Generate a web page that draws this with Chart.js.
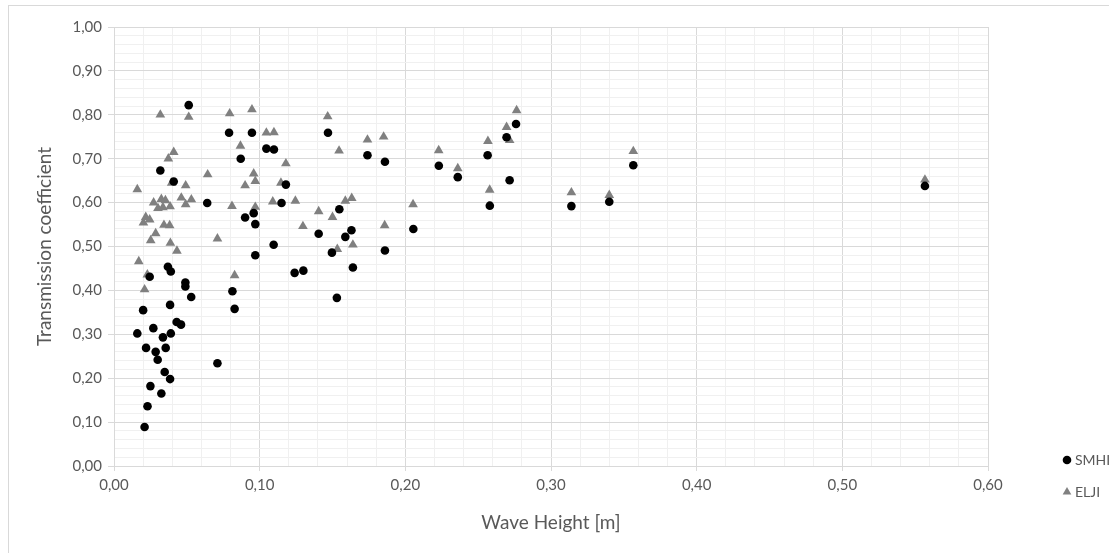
<!DOCTYPE html>
<html lang="en">

<head>
    <meta charset="UTF-8">
    <title>Transmission coefficient</title>
    <script src="https://cdn.jsdelivr.net/npm/chart.js"></script>
    <style>
        body { margin: 0; overflow: hidden; background: #fff; }
        .janela { position: relative; width: 1109px; height: 553px; overflow: hidden; }
        .moldura { position: absolute; left: 8px; top: 5px; width: 1300px; height: 800px; border: 1px solid #d9d9d9; }
        canvas { position: absolute; left: 0; top: 0; }
    </style>
</head>

<body>
    <div class="janela">
        <div class="moldura"></div>
        <canvas id="graficoTransmissao" width="1109" height="553"></canvas>
    </div>

<script>
    // SMHI - wave height [m]
    const smhiX = [0.0513, 0.079, 0.0947, 0.1046, 0.1098, 0.1469, 0.087, 0.0318, 0.041, 0.064,
        0.090, 0.0959, 0.097, 0.097, 0.118, 0.115, 0.1096, 0.174, 0.186, 0.186,
        0.1405, 0.1547, 0.1496, 0.1588, 0.163, 0.164, 0.124, 0.130, 0.153, 0.0813,
        0.0828, 0.071, 0.0245, 0.037, 0.039, 0.049, 0.049, 0.053, 0.020, 0.0385,
        0.043, 0.046, 0.016, 0.027, 0.039, 0.0336, 0.022, 0.0355, 0.0286, 0.030,
        0.0348, 0.0385, 0.025, 0.0325, 0.023, 0.021, 0.2055, 0.223, 0.236, 0.2565,
        0.258, 0.2695, 0.2716, 0.276, 0.314, 0.340, 0.3565, 0.5567];
    // SMHI - transmission coefficient
    const smhiY = [0.822, 0.759, 0.759, 0.723, 0.721, 0.759, 0.700, 0.673, 0.648, 0.599,
        0.566, 0.576, 0.551, 0.480, 0.641, 0.599, 0.504, 0.708, 0.693, 0.491,
        0.529, 0.585, 0.486, 0.522, 0.537, 0.452, 0.440, 0.445, 0.383, 0.398,
        0.358, 0.234, 0.431, 0.454, 0.443, 0.418, 0.409, 0.385, 0.355, 0.367,
        0.328, 0.322, 0.302, 0.314, 0.302, 0.293, 0.269, 0.269, 0.260, 0.242,
        0.214, 0.198, 0.182, 0.165, 0.136, 0.089, 0.540, 0.684, 0.658, 0.708,
        0.593, 0.749, 0.651, 0.779, 0.592, 0.602, 0.685, 0.638];

    // ELJI - wave height [m]
    const eljiX = [0.0318, 0.0513, 0.0794, 0.0947, 0.1046, 0.1098, 0.0868, 0.041, 0.0373, 0.0643,
        0.0959, 0.097, 0.090, 0.0492, 0.0396, 0.016, 0.0272, 0.0325, 0.0353, 0.0385,
        0.0302, 0.0336, 0.0462, 0.0492, 0.0531, 0.081, 0.097, 0.0218, 0.0245, 0.0202,
        0.0343, 0.0382, 0.0286, 0.0252, 0.0387, 0.0432, 0.071, 0.017, 0.0229, 0.0828,
        0.021, 0.1467, 0.174, 0.1851, 0.1545, 0.118, 0.1146, 0.109, 0.1245, 0.1405,
        0.150, 0.1588, 0.1632, 0.1297, 0.164, 0.1533, 0.1858, 0.2053, 0.2229, 0.236,
        0.2567, 0.2579, 0.2695, 0.2716, 0.2764, 0.314, 0.340, 0.3565, 0.5567];
    // ELJI - transmission coefficient
    const eljiY = [0.800, 0.795, 0.803, 0.812, 0.759, 0.760, 0.729, 0.715, 0.700, 0.664,
        0.666, 0.649, 0.639, 0.639, 0.645, 0.630, 0.600, 0.608, 0.605, 0.591,
        0.587, 0.589, 0.611, 0.596, 0.607, 0.592, 0.590, 0.567, 0.561, 0.554,
        0.549, 0.548, 0.530, 0.514, 0.508, 0.490, 0.518, 0.466, 0.436, 0.434,
        0.402, 0.796, 0.743, 0.750, 0.718, 0.689, 0.645, 0.602, 0.604, 0.580,
        0.567, 0.604, 0.610, 0.546, 0.504, 0.494, 0.548, 0.596, 0.719, 0.678,
        0.740, 0.629, 0.772, 0.742, 0.810, 0.623, 0.617, 0.717, 0.652];

    const series = ['SMHI', 'ELJI'];
    const tituloX = 'Wave Height [m]';
    const tituloY = 'Transmission coefficient';

    function pontos(xs, ys) {
        let lista = [];
        for (let i = 0; i < xs.length; i++) {
            lista.push({ x: xs[i], y: ys[i] });
        }
        return lista;
    }

    function ehMaior(v) {
        return Math.round(v * 100) % 10 === 0;
    }

    function rotulo(v) {
        return ehMaior(v) ? v.toFixed(2).replace('.', ',') : '';
    }

    const cinzaTexto = '#595959';
    const fonte = 'Lato, "Open Sans", sans-serif';

    // legenda desenhada à direita, como no Excel
    const legendaDireita = {
        id: 'legendaDireita',
        afterDraw(chart) {
            const ctx = chart.ctx;
            const posY = [460, 492];
            ctx.save();
            ctx.font = '14px ' + fonte;
            ctx.textBaseline = 'middle';
            chart.data.datasets.forEach(function (ds, i) {
                const y = posY[i];
                ctx.fillStyle = ds.backgroundColor;
                if (ds.pointStyle === 'triangle') {
                    const r = 5;
                    ctx.beginPath();
                    ctx.moveTo(1067, y - r);
                    ctx.lineTo(1067 + r * 0.866, y + r / 2);
                    ctx.lineTo(1067 - r * 0.866, y + r / 2);
                    ctx.closePath();
                    ctx.fill();
                } else {
                    ctx.beginPath();
                    ctx.arc(1067, y, 4.3, 0, Math.PI * 2);
                    ctx.fill();
                }
                ctx.fillStyle = cinzaTexto;
                ctx.fillText(ds.label, 1075, y);
            });
            ctx.restore();
        }
    };

    const config = {
        type: 'scatter',
        data: {
            datasets: [{
                label: series[0],
                data: pontos(smhiX, smhiY),
                backgroundColor: '#000000',
                borderColor: '#000000',
                pointStyle: 'circle',
                pointRadius: 4.3,
                pointBorderWidth: 0
            }, {
                label: series[1],
                data: pontos(eljiX, eljiY),
                backgroundColor: '#808080',
                borderColor: '#808080',
                pointStyle: 'triangle',
                pointRadius: 5.6,
                pointBorderWidth: 0
            }]
        },
        options: {
            responsive: false,
            devicePixelRatio: 1,
            animation: false,
            layout: { padding: { left: 30, top: 27, right: 121, bottom: 16 } },
            plugins: {
                legend: { display: false },
                tooltip: { enabled: false }
            },
            scales: {
                x: {
                    type: 'linear',
                    min: 0,
                    max: 0.6,
                    ticks: {
                        stepSize: 0.02,
                        autoSkip: false,
                        maxRotation: 0,
                        padding: 5,
                        color: cinzaTexto,
                        font: { size: 15, family: fonte },
                        callback: rotulo
                    },
                    grid: {
                        tickLength: 5,
                        color: function (c) { return ehMaior(c.tick.value) ? '#d9d9d9' : '#f0f0f0'; },
                        tickColor: function (c) { return ehMaior(c.tick.value) ? '#d9d9d9' : 'rgba(0,0,0,0)'; }
                    },
                    border: { color: '#d9d9d9' },
                    title: {
                        display: true,
                        text: tituloX,
                        color: cinzaTexto,
                        font: { size: 19, family: fonte },
                        padding: { top: 0, bottom: 3 }
                    },
                    afterFit: function (scale) { scale.height = 553 - 16 - 466; }
                },
                y: {
                    type: 'linear',
                    min: 0,
                    max: 1,
                    ticks: {
                        stepSize: 0.02,
                        autoSkip: false,
                        padding: 6,
                        color: cinzaTexto,
                        font: { size: 15, family: fonte },
                        callback: rotulo
                    },
                    grid: {
                        tickLength: 6,
                        color: function (c) { return ehMaior(c.tick.value) ? '#d9d9d9' : '#f0f0f0'; },
                        tickColor: function (c) { return ehMaior(c.tick.value) ? '#d9d9d9' : 'rgba(0,0,0,0)'; }
                    },
                    border: { color: '#d9d9d9' },
                    title: {
                        display: true,
                        text: tituloY,
                        color: cinzaTexto,
                        font: { size: 19, family: fonte },
                        padding: { top: 3, bottom: 0 }
                    },
                    afterFit: function (scale) { scale.width = 114 - 30; }
                }
            }
        },
        plugins: [legendaDireita]
    };

    new Chart(document.getElementById('graficoTransmissao'), config);
</script>
</body>

</html>
